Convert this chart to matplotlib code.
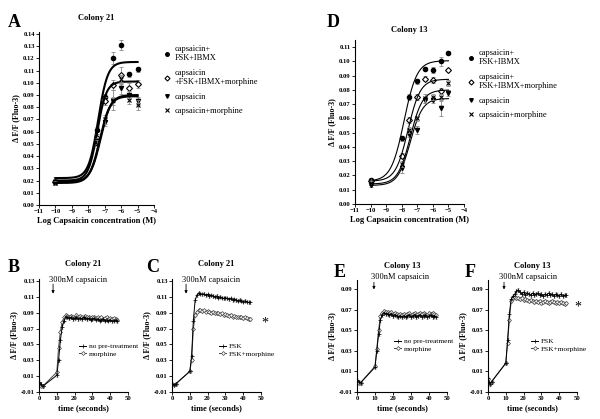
import numpy as np
import matplotlib
matplotlib.use("Agg")
import matplotlib.pyplot as plt

plt.rcParams['font.family'] = ['Liberation Serif', 'DejaVu Serif']

# ---------------- Data: concentration-response (A: colony 21) ----------------
logconc_A = [-10, -7.5, -7, -6.5, -6, -5.5, -5]
A_fsk_ibmx = [0.020, 0.061, 0.088, 0.120, 0.131, 0.107, 0.111]
A_fsk_ibmx_err = [0.003, 0.003, 0.003, 0.005, 0.004, 0.002, 0.002]
A_fsk_ibmx_morph = [0.019, 0.055, 0.085, 0.098, 0.106, 0.096, 0.099]
A_fsk_ibmx_morph_err = [0.002, 0.003, 0.003, 0.004, 0.007, 0.004, 0.003]
A_caps = [0.018, 0.052, 0.068, 0.085, 0.096, 0.090, 0.085]
A_caps_err = [0.002, 0.003, 0.003, 0.003, 0.005, 0.003, 0.003]
A_caps_morph = [0.018, 0.050, 0.070, 0.086, 0.103, 0.086, 0.082]
A_caps_morph_err = [0.002, 0.003, 0.004, 0.008, 0.003, 0.003, 0.004]
# fitted sigmoid parameters: bottom, top, logEC50, hill
A_fits = [(0.022, 0.117, -7.40, 1.5), (0.020, 0.101, -7.45, 1.6),
          (0.019, 0.090, -7.25, 1.4), (0.018, 0.089, -7.30, 1.4)]

# ---------------- Data: concentration-response (D: colony 13) ----------------
logconc_D = [-10, -8, -7.5, -7, -6.5, -6, -5.5, -5]
D_fsk_ibmx = [0.017, 0.046, 0.075, 0.086, 0.095, 0.094, 0.100, 0.106]
D_fsk_ibmx_err = [0.001, 0.002, 0.002, 0.002, 0.001, 0.002, 0.003, 0.001]
D_fsk_ibmx_morph = [0.016, 0.034, 0.059, 0.075, 0.088, 0.087, 0.079, 0.094]
D_fsk_ibmx_morph_err = [0.001, 0.002, 0.002, 0.002, 0.002, 0.002, 0.002, 0.001]
D_caps = [0.013, 0.025, 0.049, 0.052, 0.073, 0.073, 0.067, 0.078]
D_caps_err = [0.001, 0.003, 0.002, 0.003, 0.002, 0.002, 0.005, 0.002]
D_caps_morph = [0.015, 0.028, 0.052, 0.060, 0.074, 0.075, 0.075, 0.085]
D_caps_morph_err = [0.001, 0.002, 0.002, 0.002, 0.003, 0.002, 0.002, 0.002]
D_fits = [(0.016, 0.1005, -7.85, 1.05), (0.016, 0.0875, -7.60, 1.1),
          (0.013, 0.0740, -7.45, 1.1), (0.014, 0.0800, -7.45, 1.1)]

cr_labels_A = ["capsaicin+\nFSK+IBMX", "capsaicin\n+FSK+IBMX+morphine",
               "capsaicin", "capsaicin+morphine"]
cr_labels_D = ["capsaicin+\nFSK+IBMX", "capsaicin+\nFSK+IBMX+morphine",
               "capsaicin", "capsaicin+morphine"]

# ---------------- Data: time courses ----------------
time_s = [0, 1, 2, 10, 11, 12, 13, 14, 15, 16, 17, 18, 19, 20, 21, 22, 23, 24,
          25, 26, 27, 28, 29, 30, 31, 32, 33, 34, 35, 36, 37, 38, 39, 40, 41,
          42, 43, 44]

B_none = [0.003, 0.000, -0.003, 0.011, 0.030, 0.055, 0.072, 0.080, 0.085, 0.084,
          0.083, 0.084, 0.082, 0.083, 0.084, 0.082, 0.083, 0.082, 0.084, 0.083,
          0.082, 0.083, 0.081, 0.082, 0.083, 0.081, 0.082, 0.080, 0.081, 0.082,
          0.080, 0.081, 0.080, 0.081, 0.079, 0.080, 0.081, 0.079]
B_morph = [0.001, -0.002, -0.003, 0.015, 0.046, 0.066, 0.078, 0.084, 0.087, 0.086,
           0.085, 0.086, 0.084, 0.085, 0.087, 0.085, 0.086, 0.084, 0.085, 0.086,
           0.084, 0.085, 0.083, 0.084, 0.085, 0.083, 0.084, 0.083, 0.084, 0.082,
           0.083, 0.084, 0.082, 0.083, 0.082, 0.083, 0.082, 0.081]
C_fsk = [0.000, -0.001, 0.000, 0.016, 0.035, 0.080, 0.106, 0.112, 0.115, 0.114,
         0.113, 0.114, 0.112, 0.113, 0.111, 0.112, 0.111, 0.110, 0.111, 0.109,
         0.110, 0.109, 0.108, 0.109, 0.108, 0.107, 0.108, 0.106, 0.107, 0.106,
         0.105, 0.106, 0.105, 0.104, 0.105, 0.104, 0.103, 0.103]
C_fsk_morph = [0.000, -0.001, 0.000, 0.016, 0.030, 0.070, 0.087, 0.091, 0.093, 0.093,
               0.092, 0.093, 0.091, 0.092, 0.091, 0.090, 0.091, 0.089, 0.090, 0.089,
               0.088, 0.089, 0.087, 0.088, 0.087, 0.086, 0.087, 0.085, 0.086, 0.085,
               0.084, 0.085, 0.084, 0.083, 0.084, 0.083, 0.082, 0.082]
E_none = [0.002, 0.000, -0.001, 0.014, 0.030, 0.046, 0.060, 0.065, 0.067, 0.066,
          0.066, 0.065, 0.066, 0.064, 0.065, 0.064, 0.063, 0.064, 0.063, 0.064,
          0.063, 0.064, 0.065, 0.063, 0.064, 0.065, 0.063, 0.064, 0.065, 0.063,
          0.064, 0.065, 0.063, 0.064, 0.065, 0.063, 0.064, 0.063]
E_morph = [0.001, -0.001, -0.001, 0.015, 0.032, 0.050, 0.064, 0.067, 0.069, 0.068,
           0.068, 0.067, 0.068, 0.066, 0.067, 0.066, 0.065, 0.066, 0.065, 0.066,
           0.065, 0.066, 0.067, 0.065, 0.066, 0.067, 0.065, 0.066, 0.067, 0.066,
           0.067, 0.066, 0.065, 0.067, 0.066, 0.067, 0.066, 0.065]
F_fsk = [0.004, -0.002, 0.000, 0.018, 0.040, 0.066, 0.080, 0.083, 0.085, 0.088,
         0.089, 0.087, 0.085, 0.087, 0.084, 0.086, 0.085, 0.084, 0.086, 0.084,
         0.085, 0.086, 0.084, 0.085, 0.083, 0.085, 0.084, 0.086, 0.084, 0.085,
         0.083, 0.085, 0.084, 0.083, 0.085, 0.083, 0.084, 0.084]
F_fsk_morph = [0.003, -0.002, 0.000, 0.018, 0.038, 0.060, 0.078, 0.081, 0.082, 0.081,
               0.081, 0.080, 0.081, 0.079, 0.080, 0.079, 0.078, 0.079, 0.078, 0.077,
               0.078, 0.077, 0.078, 0.076, 0.077, 0.078, 0.077, 0.076, 0.077, 0.078,
               0.077, 0.076, 0.077, 0.076, 0.077, 0.076, 0.075, 0.076]
tc_sem = 0.002

# ---------------- Layout helpers ----------------
W, H = 600, 419
fig = plt.figure(figsize=(W / 100, H / 100), dpi=100)


def add_ax(left, top, right, bottom):
    return fig.add_axes([left / W, 1 - bottom / H, (right - left) / W, (bottom - top) / H])


def style(ax):
    for s in ['top', 'right']:
        ax.spines[s].set_visible(False)
    for s in ['left', 'bottom']:
        ax.spines[s].set_linewidth(0.8)
    ax.tick_params(direction='out', length=2, width=0.6, pad=1, labelsize=4.8)
    for lab in ax.get_xticklabels() + ax.get_yticklabels():
        lab.set_fontweight('bold')


def hill(x, b, t, ec, h):
    return b + (t - b) / (1 + 10 ** ((ec - x) * h))


marker_specs = [dict(marker='o', mfc='black', mec='black', ms=3.0),
                dict(marker='D', mfc='white', mec='black', ms=3.0, mew=0.8),
                dict(marker='v', mfc='black', mec='black', ms=3.0),
                dict(marker='x', mfc='black', mec='black', ms=3.0, mew=0.8)]


def cr_panel(ax, xs, series, errs, fits, labels, lw, ylim, yticks, title, tpad, leg_xy):
    xx = np.linspace(-10, -5, 200)
    handles = []
    for ys, es, fp, ms in zip(series, errs, fits, marker_specs):
        ax.errorbar(xs, ys, yerr=es, fmt='none', ecolor='#888888', elinewidth=0.6,
                    capsize=1.5, capthick=0.6)
        h, = ax.plot(xs, ys, linestyle='none', **ms)
        ax.plot(xx, hill(xx, *fp), color='black', lw=lw)
        handles.append(h)
    ax.set_xlim(-11, -4)
    ax.set_ylim(*ylim)
    ax.set_xticks(range(-11, -3))
    ax.set_yticks(yticks)
    ax.set_yticklabels([f"{v:.2f}" for v in yticks])
    ax.set_xlabel("Log Capsaicin concentration (M)", fontsize=6, fontweight='bold', labelpad=2)
    ax.set_ylabel("Δ F/F (Fluo-3)", fontsize=5.8, fontweight='bold', labelpad=2)
    ax.set_title(title, fontsize=6, fontweight='bold', pad=tpad)
    style(ax)
    fig.legend(handles, labels, loc='upper left',
               bbox_to_anchor=(leg_xy[0] / W, 1 - leg_xy[1] / H), frameon=False,
               fontsize=6, handlelength=0.8, handletextpad=0.5, labelspacing=0.8,
               borderaxespad=0, borderpad=0, markerscale=0.85)


# Panel A
axA = add_ax(39, 32, 154, 205)
cr_panel(axA, logconc_A, [A_fsk_ibmx, A_fsk_ibmx_morph, A_caps, A_caps_morph],
         [A_fsk_ibmx_err, A_fsk_ibmx_morph_err, A_caps_err, A_caps_morph_err],
         A_fits, cr_labels_A, 1.5, (0, 0.1415), np.round(np.arange(0, 0.141, 0.01), 2),
         "Colony 21", 9, (164, 45))

# Panel D
axD = add_ax(355, 40, 464, 204)
cr_panel(axD, logconc_D, [D_fsk_ibmx, D_fsk_ibmx_morph, D_caps, D_caps_morph],
         [D_fsk_ibmx_err, D_fsk_ibmx_morph_err, D_caps_err, D_caps_morph_err],
         D_fits, cr_labels_D, 0.8, (0, 0.115), np.round(np.arange(0, 0.111, 0.01), 2),
         "Colony 13", 6, (468, 49))


def tc_panel(ax, s1, s2, labels, ylim, yticks, title, text_t, arrow_t, arrow_y,
             text_y, leg_xy, star=None):
    ax.errorbar(time_s, s2, yerr=tc_sem, fmt='none', ecolor='#b0b0b0', elinewidth=0.6,
                capsize=1.0, capthick=0.5, zorder=1)
    ax.errorbar(time_s, s1, yerr=tc_sem, fmt='none', ecolor='#a0a0a0', elinewidth=0.6,
                capsize=1.0, capthick=0.5, zorder=1)
    h2, = ax.plot(time_s, s2, color='#444444', lw=0.7, marker='D', ms=2.0, mfc='white',
                  mec='#444444', mew=0.5, zorder=2)
    h1, = ax.plot(time_s, s1, color='black', lw=0.7, marker='+', ms=2.5, mew=0.5, zorder=3)
    ax.set_xlim(0, 50)
    ax.set_ylim(*ylim)
    ax.set_xticks(range(0, 51, 10))
    ax.set_yticks(yticks)
    ax.set_yticklabels([f"{v:.2f}" for v in yticks])
    ax.set_xlabel("time (seconds)", fontsize=6, fontweight='bold', labelpad=2)
    ax.set_ylabel("Δ F/F (Fluo-3)", fontsize=5.8, fontweight='bold', labelpad=2)
    ax.set_title(title, fontsize=6, fontweight='bold', pad=9)
    ax.text(text_t, text_y, "300nM capsaicin", fontsize=6, ha='left', va='center',
            clip_on=False)
    ax.annotate("", xy=(arrow_t, arrow_y[1]), xytext=(arrow_t, arrow_y[0]),
                arrowprops=dict(arrowstyle='-|>', lw=0.6, color='black',
                                mutation_scale=4, shrinkA=0, shrinkB=0),
                annotation_clip=False)
    if star is not None:
        ax.text(star[0], star[1], "*", fontsize=10, ha='center', va='center',
                clip_on=False)
    style(ax)
    ax.legend([h1, h2], labels, loc='upper left',
              bbox_to_anchor=leg_xy, bbox_transform=fig.transFigure,
              frameon=False, fontsize=5.3, handlelength=1.0, handletextpad=0.3,
              labelspacing=0.2, borderaxespad=0, borderpad=0)


yt_c21 = [-0.01, 0.01, 0.03, 0.05, 0.07, 0.09, 0.11, 0.13]
yt_c13 = [-0.01, 0.01, 0.03, 0.05, 0.07, 0.09]

axB = add_ax(39, 279, 128, 392)
tc_panel(axB, B_none, B_morph, ["no pre-treatment", "morphine"], (-0.01, 0.1325),
         yt_c21, "Colony 21", 5.6, 7.9, (0.126, 0.114), 0.131,
         (79 / W, 1 - 343 / H))
axC = add_ax(172, 279, 261, 392)
tc_panel(axC, C_fsk, C_fsk_morph, ["FSK", "FSK+morphine"], (-0.01, 0.1325),
         yt_c21, "Colony 21", 5.6, 7.9, (0.126, 0.114), 0.131,
         (219 / W, 1 - 343 / H), star=(52, 0.077))
axE = add_ax(357, 280, 447, 392)
tc_panel(axE, E_none, E_morph, ["no pre-treatment", "morphine"], (-0.01, 0.0987),
         yt_c13, "Colony 13", 7.8, 9.4, (0.0965, 0.0895), 0.1015,
         (394 / W, 1 - 338 / H))
axF = add_ax(488, 280, 577, 392)
tc_panel(axF, F_fsk, F_fsk_morph, ["FSK", "FSK+morphine"], (-0.01, 0.0987),
         yt_c13, "Colony 13", 6.2, 9.0, (0.0965, 0.0895), 0.1015,
         (531 / W, 1 - 338 / H), star=(50.5, 0.072))

# panel letters
for letter, x, y in [("A", 8, 27), ("D", 327, 27), ("B", 8, 272), ("C", 146, 272),
                     ("E", 334, 277), ("F", 465, 277)]:
    fig.text(x / W, 1 - y / H, letter, fontsize=13, fontweight='bold',
             ha='left', va='baseline')

fig.savefig("out.png", dpi=100)
